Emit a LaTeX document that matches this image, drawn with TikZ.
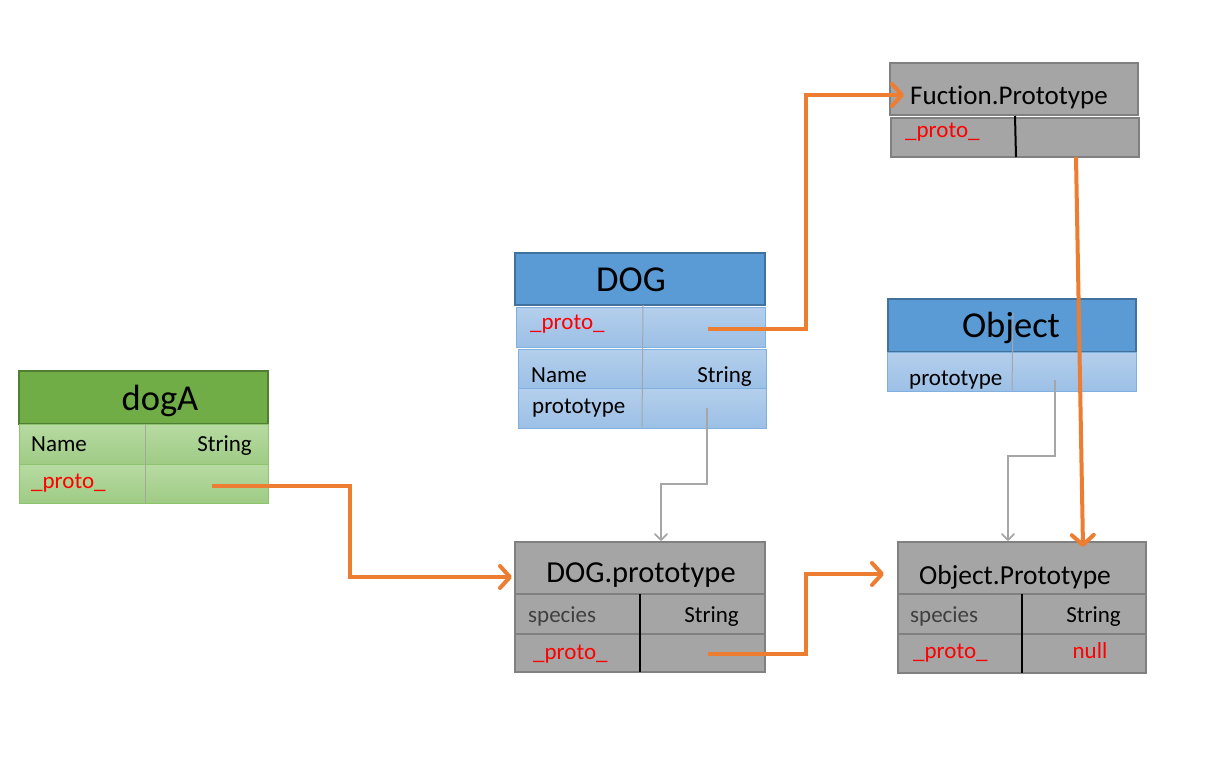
\documentclass[tikz,border=0pt]{standalone}
\usepackage{fontspec}
\setmainfont[Ligatures=CommonOff]{Carlito}
\usetikzlibrary{arrows.meta}
\definecolor{orng}{HTML}{ED7D31}
\definecolor{ghd}{HTML}{70AD47}
\definecolor{ghdb}{HTML}{507E32}
\definecolor{grt}{HTML}{B7DBA2}
\definecolor{grb}{HTML}{9FCB85}
\definecolor{grbd}{HTML}{8DC46B}
\definecolor{bhd}{HTML}{5B9BD5}
\definecolor{bhdb}{HTML}{41719C}
\definecolor{brt}{HTML}{B4CFEC}
\definecolor{brb}{HTML}{9CC0E6}
\definecolor{brbd}{HTML}{7FB0E0}
\definecolor{gyf}{HTML}{A5A5A5}
\definecolor{gyb}{HTML}{808080}
\definecolor{lnk}{HTML}{A6A6A6}
\definecolor{rd}{HTML}{FF0000}
\definecolor{dk}{HTML}{3F3F3F}
\begin{document}
\begin{tikzpicture}[x=1pt,y=-1pt,
  cellbox/.style={anchor=north west,inner sep=0pt,outer sep=0pt},
  greenhdr/.style={cellbox,fill=ghd,draw=ghdb,line width=1.5pt},
  greenrow/.style={cellbox,top color=grt,bottom color=grb,draw=grbd,line width=1pt},
  bluehdr/.style={cellbox,fill=bhd,draw=bhdb,line width=1.5pt},
  bluerow/.style={cellbox,top color=brt,bottom color=brb,draw=brbd,line width=1pt},
  greybox/.style={cellbox,fill=gyf,draw=gyb,line width=1.8pt},
  bigtext/.style={inner sep=0pt,font=\fontsize{36.5}{40}\selectfont,anchor=base},
  midtext/.style={inner sep=0pt,font=\fontsize{27}{30}\selectfont,anchor=base},
  rowleft/.style={inner sep=0pt,font=\fontsize{23}{26}\selectfont,anchor=base west},
  rowright/.style={inner sep=0pt,font=\fontsize{23}{26}\selectfont,anchor=base east},
  protext/.style={rowleft,text=rd},
  lightdiv/.style={draw=lnk,line width=1pt},
  blackdiv/.style={draw=black,line width=2pt},
  hsepline/.style={draw=gyb,line width=1.8pt},
  orangearrow/.style={draw=orng,line width=4pt,-{Straight Barb[length=10pt,width=22pt,round]}},
  greyarrow/.style={draw=lnk,line width=1.8pt,-{Straight Barb[length=6pt,width=12pt,round]}}
]
\useasboundingbox (0,0) rectangle (1207,776);

% ---------- dogA ----------
\node[greenhdr,minimum width=249pt,minimum height=53pt] (dAh) at (19,371) {};
\node[greenrow,minimum width=249pt,minimum height=40pt] (dAr1) at (19,424) {};
\node[greenrow,minimum width=249pt,minimum height=39pt] (dAr2) at (19,464) {};
\draw[lightdiv] (145,424) -- (145,503);
\node[bigtext] (dAt) at (160,410) {dogA};
\node[rowleft] (dAn) at (31,451) {Name};
\node[rowright] (dAs1) at (252,451) {String};
\node[protext] (dAp) at (31,488) {\_proto\_};

% ---------- DOG ----------
\node[bluehdr,minimum width=250pt,minimum height=52pt] (dGh) at (515,253) {};
\node[bluerow,minimum width=249pt,minimum height=40pt] (dGr0) at (516,307) {};
\node[bluerow,minimum width=248pt,minimum height=39pt] (dGr1) at (518,349) {};
\node[bluerow,minimum width=248pt,minimum height=40pt] (dGr2) at (518,388) {};
\draw[lightdiv] (643,305) -- (642,427);
\node[bigtext] (dGt) at (631,291) {DOG};
\node[protext] (dGp) at (530,329) {\_proto\_};
\node[rowleft] (dGn) at (531,382) {Name};
\node[rowright] (dGs) at (752,382) {String};
\node[rowleft] (dGpr) at (532,413) {prototype};

% ---------- Fuction.Prototype ----------
\node[greybox,minimum width=248pt,minimum height=52pt] (fPh) at (890,63) {};
\node[greybox,minimum width=248pt,minimum height=39pt] (fPr) at (891,118) {};
\draw[blackdiv] (1015,116) -- (1016,157);
\node[midtext,anchor=base west] (fPt) at (910,104) {Fuction.Prototype};
\node[protext] (fPp) at (905,137) {\_proto\_};

% ---------- Object ----------
\node[bluehdr,minimum width=248pt,minimum height=53pt] (oBh) at (888,299) {};
\node[bluerow,minimum width=249pt,minimum height=39pt] (oBr) at (887,352) {};
\draw[lightdiv] (1013,313) -- (1012,390);
\node[bigtext] (oBt) at (1011,337) {Object};
\node[rowleft] (oBpr) at (909,385) {prototype};

% ---------- DOG.prototype ----------
\node[greybox,minimum width=250pt,minimum height=130pt] (dPh) at (515,542) {};
\draw[hsepline] (515,594) -- (765,594);
\draw[hsepline] (515,634) -- (765,634);
\draw[blackdiv] (640,594) -- (640,672);
\node[midtext,font=\fontsize{30.5}{34}\selectfont] (dPt) at (641,582) {DOG.prototype};
\node[rowleft,text=dk] (dPsp) at (528,622) {species};
\node[rowright] (dPs) at (739,622) {String};
\node[protext] (dPp) at (533,659) {\_proto\_};

% ---------- Object.Prototype ----------
\node[greybox,minimum width=248pt,minimum height=131pt] (oPh) at (898,542) {};
\draw[hsepline] (898,594) -- (1146,594);
\draw[hsepline] (898,634) -- (1146,634);
\draw[blackdiv] (1022,594) -- (1022,673);
\node[midtext,font=\fontsize{27.5}{31}\selectfont] (oPt) at (1015,584) {Object.Prototype};
\node[rowleft,text=dk] (oPsp) at (910,622) {species};
\node[rowright] (oPs) at (1121,622) {String};
\node[protext] (oPp) at (913,658) {\_proto\_};
\node[inner sep=0pt,font=\fontsize{23}{26}\selectfont,anchor=base,text=rd] (oPn) at (1090,658) {null};

% ---------- connector ends ----------
\coordinate (cA) at (212,486);
\coordinate (cDin) at (512,577);
\coordinate (cG) at (708,329);
\coordinate (cFin) at (904,95);
\coordinate (cD) at (708,654);
\coordinate (cOin) at (884,574);
\coordinate (cF) at (1076,157);
\coordinate (cOtop) at (1083,547);
\coordinate (cGp) at (707,408);
\coordinate (cDtop) at (661,541);
\coordinate (cOb) at (1055,380);
\coordinate (cOtop2) at (1008,541);

% ---------- connectors ----------
\draw[orangearrow] (cA) -- ++(138,0) |- (cDin);
\draw[orangearrow] (cG) -- ++(98,0) |- (cFin);
\draw[orangearrow] (cD) -- ++(98,0) |- (cOin);
\draw[orangearrow] (cF) -- (cOtop);
\draw[greyarrow] (cGp) -- ++(0,76) -| (cDtop);
\draw[greyarrow] (cOb) -- ++(0,76) -| (cOtop2);
\end{tikzpicture}
\end{document}
